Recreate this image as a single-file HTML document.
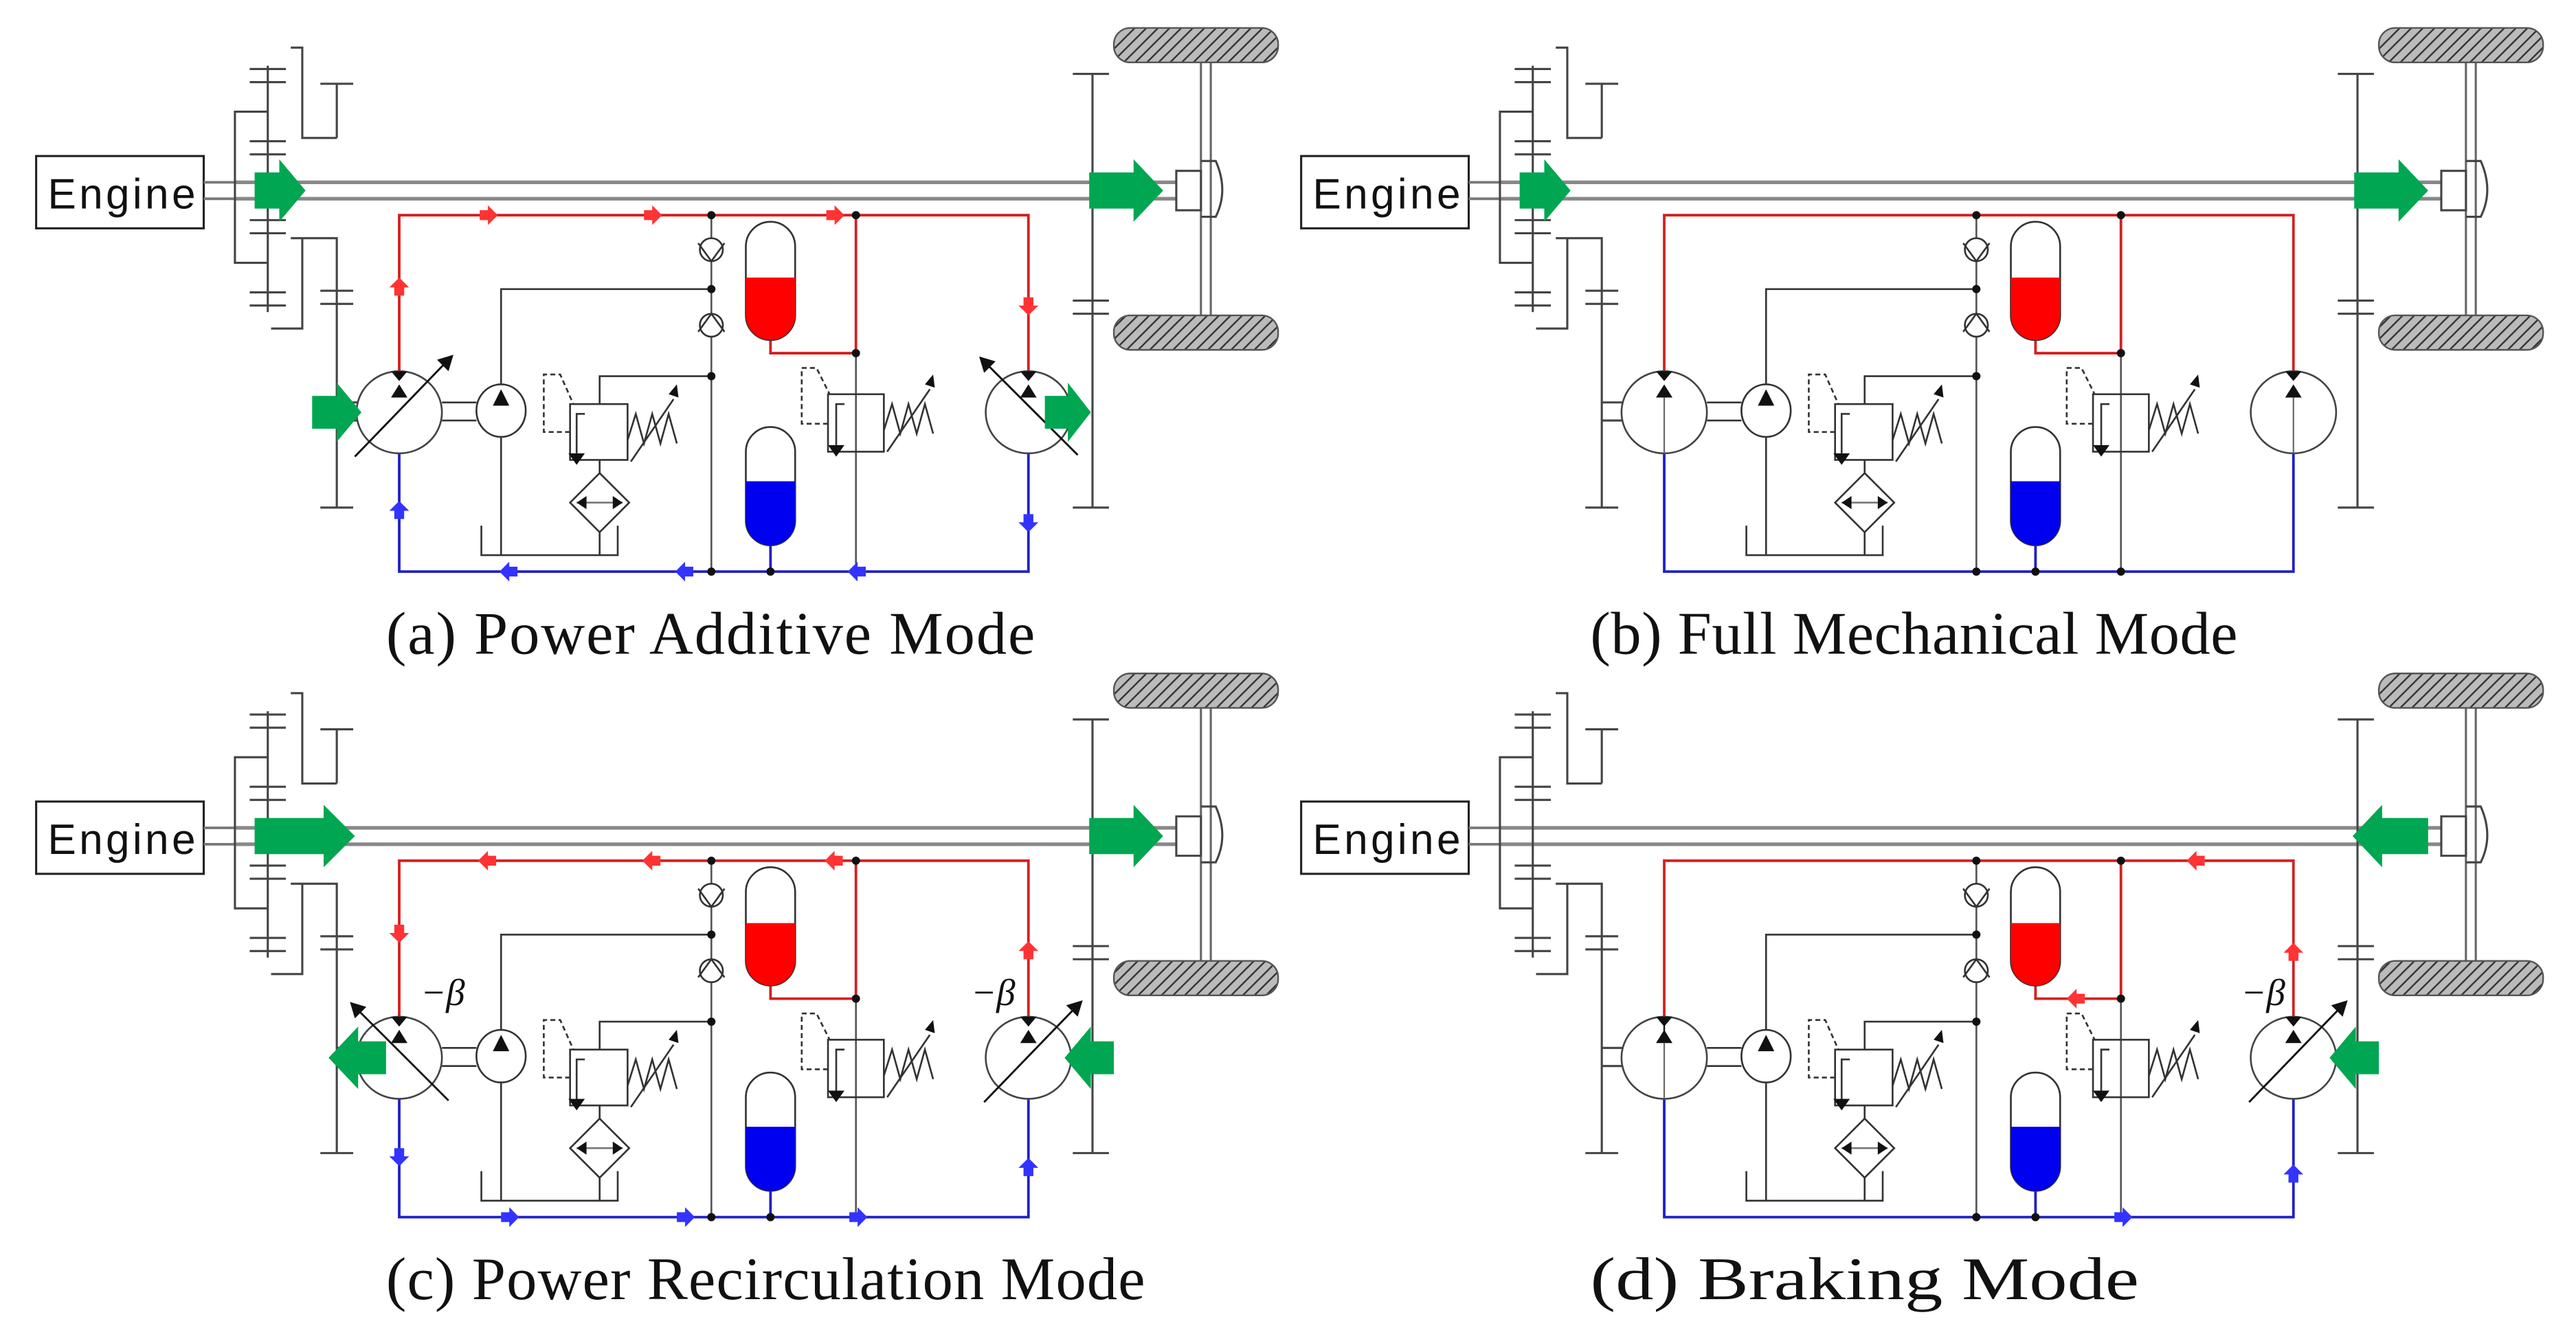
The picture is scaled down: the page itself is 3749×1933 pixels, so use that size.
<!DOCTYPE html>
<html><head><meta charset="utf-8"><style>html,body{margin:0;padding:0;background:#fff}svg{display:block}</style></head>
<body>
<svg xmlns="http://www.w3.org/2000/svg" xmlns:xlink="http://www.w3.org/1999/xlink" width="3749" height="1933" viewBox="0 0 1568 808.5" preserveAspectRatio="none">
<defs>
<pattern id="hatch" width="5" height="5" patternUnits="userSpaceOnUse" patternTransform="rotate(45)">
<rect width="5" height="5" fill="#bbb"/><line x1="0" y1="0" x2="0" y2="5" stroke="#333" stroke-width="2"/></pattern>
<g id="base">
<g fill="none" stroke="#444" stroke-width="1.3">
<rect x="22" y="95" width="102" height="44" stroke="#222"/>
<path d="M124,111H143M124,121H143" stroke="#777" stroke-width="1.6"/>
<path d="M143,111H716M143,121H716" stroke="#888" stroke-width="2.2"/>
<path d="M177,29H184V84H205M195,51H215M205,51V84"/>
<path d="M163,40V190M152,42H174M152,50H174M152,86H174M152,94H174M152,134H174M152,142H174M152,178H174M152,186H174"/>
<path d="M163,68H143V160H163"/>
<path d="M177,145H205V309M195,177H215M195,185H215M195,309H215M184,145V200H165"/>
<path d="M205,245H218M205,256H218"/>
<path d="M665,45V309M653,45H675M653,309H675M653,183H675M653,191H675"/>
<path d="M731,38V192M737,38V192" stroke="#666"/>
<path d="M731,98H740Q748,116 740,132H731"/>
<path d="M716,104H731V128H716Z" fill="#fff"/>
</g>
<rect x="678" y="17" width="100" height="21" rx="10" fill="url(#hatch)" stroke="#555" stroke-width="1"/>
<rect x="678" y="192" width="100" height="21" rx="10" fill="url(#hatch)" stroke="#555" stroke-width="1"/>
<path d="M243,226V131H626V226" fill="none" stroke="#d42020" stroke-width="1.6"/>
<path d="M521,131V215H469V207" fill="none" stroke="#d42020" stroke-width="1.6"/>
<path d="M243,276V348H626V276" fill="none" stroke="#2020c8" stroke-width="1.6"/>
<path d="M469,332V348" fill="none" stroke="#2020c8" stroke-width="1.6"/>
<g fill="none" stroke="#333" stroke-width="1.1">
<path d="M433,131V348M521,215V348" stroke="#555"/>
<path d="M305,234V176H433M365,246V229H433"/>
<circle cx="433" cy="152" r="7" fill="#fff"/><path d="M425,148L433,159L441,148"/>
<circle cx="433" cy="198" r="7" fill="#fff"/><path d="M425,202L433,191L441,202"/>
<rect x="454" y="135" width="30" height="72" rx="15" fill="#fff"/>
<path d="M454,169H484V192A15,15 0 0 1 454,192Z" fill="#f00" stroke="none"/>
<rect x="454" y="260" width="30" height="72" rx="15" fill="#fff"/>
<path d="M454,293H484V317A15,15 0 0 1 454,317Z" fill="#0000f0" stroke="none"/>
<ellipse cx="243" cy="251" rx="26" ry="25" fill="#fff" stroke="#444"/>
<path d="M269,245H290M269,256H290"/>
<ellipse cx="305" cy="250" rx="15" ry="16" fill="#fff"/>
<path d="M305,266V338M293,320V338H376V320M365,280V288M365,324V338"/>
<path d="M365,288L383,306L365,324L347,306Z"/>
<path d="M351,306H379" stroke="#777"/>
<rect x="347" y="246" width="35" height="34"/>
<path d="M356,252H351V276"/>
<path d="M347,263H331V228H341L349,246" stroke-dasharray="3,2"/>
<path d="M382,268L387,252L392,270L397,252L402,270L407,252L412,270"/>
<path d="M384,281L410,243"/>
<rect x="504" y="240" width="34" height="35"/>
<path d="M514,246H509V271"/>
<path d="M504,258H488V224H497L505,240" stroke-dasharray="3,2"/>
<path d="M538,262L543,246L548,264L553,246L558,264L563,246L568,264"/>
<path d="M540,275L566,237"/>
<ellipse cx="626" cy="251" rx="26" ry="25" fill="#fff" stroke="#444"/>
</g>
<g fill="#111">
<path d="M346,276h10l-5,7z"/><path d="M504,271h10l-5,7z"/>
<path d="M407,240l5,-6l1,8z"/><path d="M563,234l5,-6l1,8z"/>
<path d="M351,306l6,-4v8z"/><path d="M379,306l-6,-4v8z"/>
<circle cx="433" cy="131" r="2.5"/><circle cx="521" cy="131" r="2.5"/>
<circle cx="433" cy="176" r="2.5"/><circle cx="433" cy="229" r="2.5"/>
<circle cx="521" cy="215" r="2.5"/><circle cx="433" cy="348" r="2.5"/>
<circle cx="469" cy="348" r="2.5"/><circle cx="521" cy="348" r="2.5"/>
<path d="M238,226h10l-5,6z"/><path d="M243,234l5,8h-10z"/>
<path d="M621,226h10l-5,6z"/><path d="M626,234l5,8h-10z"/>
<path d="M305,237l5,10h-10z"/>
</g>
</g>
<g id="varUR"><path d="M216,278L272,220" stroke="#111" stroke-width="1.2"/><path d="M276,216l-3,10l-7,-7z" fill="#111"/></g>
<g id="varUL"><path d="M273,277L217,221" stroke="#111" stroke-width="1.2"/><path d="M213,217l10,3l-7,7z" fill="#111"/></g>
<g id="fixedline"><path d="M243,242V276" stroke="#666" stroke-width="0.9"/></g>
<path id="fR" d="M-5,-3h5v-3l6,6l-6,6v-3h-5z"/>
</defs>

<g>
<use xlink:href="#base"/>
<use xlink:href="#varUR"/>
<use xlink:href="#varUL" transform="translate(383,0)"/>
<g fill="#00a651">
<polygon points="155,105 170,105 170,97 186,116 170,135 170,127 155,127"/>
<polygon points="663,105 690,105 690,97 708,116 690,135 690,127 663,127"/>
<polygon points="190,241 205,241 205,233 220,251 205,269 205,261 190,261"/>
<polygon points="636,241 650,241 650,233 664,251 650,269 650,261 636,261"/>
</g>
<g fill="#f33">
<use xlink:href="#fR" transform="translate(297,131)"/><use xlink:href="#fR" transform="translate(397,131)"/><use xlink:href="#fR" transform="translate(508,131)"/>
<use xlink:href="#fR" transform="translate(243,175) rotate(-90)"/><use xlink:href="#fR" transform="translate(626,186) rotate(90)"/>
</g>
<g fill="#33f">
<use xlink:href="#fR" transform="translate(310,348) rotate(180)"/><use xlink:href="#fR" transform="translate(417,348) rotate(180)"/><use xlink:href="#fR" transform="translate(522,348) rotate(180)"/>
<use xlink:href="#fR" transform="translate(243,311) rotate(-90)"/><use xlink:href="#fR" transform="translate(626,318) rotate(90)"/>
</g>
<text x="29" y="127" font-family="Liberation Sans, sans-serif" font-size="26" fill="#111" textLength="90">Engine</text>
<text x="235" y="398" font-family="Liberation Serif, serif" font-size="37" fill="#111" textLength="395">(a) Power Additive Mode</text>
</g>

<g transform="translate(770,0)">
<use xlink:href="#base"/>
<use xlink:href="#fixedline"/>
<use xlink:href="#fixedline" transform="translate(383,0)"/>
<g fill="#00a651">
<polygon points="155,105 170,105 170,97 186,116 170,135 170,127 155,127"/>
<polygon points="663,105 690,105 690,97 708,116 690,135 690,127 663,127"/>
</g>
<text x="29" y="127" font-family="Liberation Sans, sans-serif" font-size="26" fill="#111" textLength="90">Engine</text>
<text x="198" y="398" font-family="Liberation Serif, serif" font-size="37" fill="#111" textLength="394">(b) Full Mechanical Mode</text>
</g>

<g transform="translate(0,393)">
<use xlink:href="#base"/>
<use xlink:href="#varUL"/>
<use xlink:href="#varUR" transform="translate(383,0)"/>
<g fill="#00a651">
<polygon points="155,105 197,105 197,97 216,116 197,135 197,127 155,127"/>
<polygon points="663,105 690,105 690,97 708,116 690,135 690,127 663,127"/>
<polygon points="235,241 218,241 218,232 200,251 218,270 218,261 235,261"/>
<polygon points="678,241 664,241 664,232 648,251 664,270 664,261 678,261"/>
</g>
<g fill="#f33">
<use xlink:href="#fR" transform="translate(297,131) rotate(180)"/><use xlink:href="#fR" transform="translate(397,131) rotate(180)"/><use xlink:href="#fR" transform="translate(508,131) rotate(180)"/>
<use xlink:href="#fR" transform="translate(243,175) rotate(90)"/><use xlink:href="#fR" transform="translate(626,186) rotate(-90)"/>
</g>
<g fill="#33f">
<use xlink:href="#fR" transform="translate(310,348)"/><use xlink:href="#fR" transform="translate(417,348)"/><use xlink:href="#fR" transform="translate(522,348)"/>
<use xlink:href="#fR" transform="translate(243,311) rotate(90)"/><use xlink:href="#fR" transform="translate(626,318) rotate(-90)"/>
</g>
<text x="256" y="219" font-family="Liberation Serif, serif" font-style="italic" font-size="23" fill="#111">−β</text>
<text x="591" y="219" font-family="Liberation Serif, serif" font-style="italic" font-size="23" fill="#111">−β</text>
<text x="29" y="127" font-family="Liberation Sans, sans-serif" font-size="26" fill="#111" textLength="90">Engine</text>
<text x="235" y="398" font-family="Liberation Serif, serif" font-size="37" fill="#111" textLength="462">(c) Power Recirculation Mode</text>
</g>

<g transform="translate(770,393)">
<use xlink:href="#base"/>
<use xlink:href="#fixedline"/>
<use xlink:href="#varUR" transform="translate(383,0)"/>
<g fill="#00a651">
<polygon points="708,105 680,105 680,97 662,116 680,135 680,127 708,127"/>
<polygon points="678,241 664,241 664,232 648,251 664,270 664,261 678,261"/>
</g>
<g fill="#f33">
<use xlink:href="#fR" transform="translate(567,131) rotate(180)"/>
<use xlink:href="#fR" transform="translate(494,215) rotate(180)"/>
<use xlink:href="#fR" transform="translate(626,187) rotate(-90)"/>
</g>
<g fill="#33f">
<use xlink:href="#fR" transform="translate(522,348)"/>
<use xlink:href="#fR" transform="translate(626,322) rotate(-90)"/>
</g>
<path d="M243,226V238" stroke="#111" stroke-width="1"/>
<text x="594" y="219" font-family="Liberation Serif, serif" font-style="italic" font-size="23" fill="#111">−β</text>
<text x="29" y="127" font-family="Liberation Sans, sans-serif" font-size="26" fill="#111" textLength="90">Engine</text>
<text x="198" y="398" font-family="Liberation Serif, serif" font-size="37" fill="#111" textLength="334" lengthAdjust="spacingAndGlyphs">(d) Braking Mode</text>
</g>
</svg>
</body></html>
